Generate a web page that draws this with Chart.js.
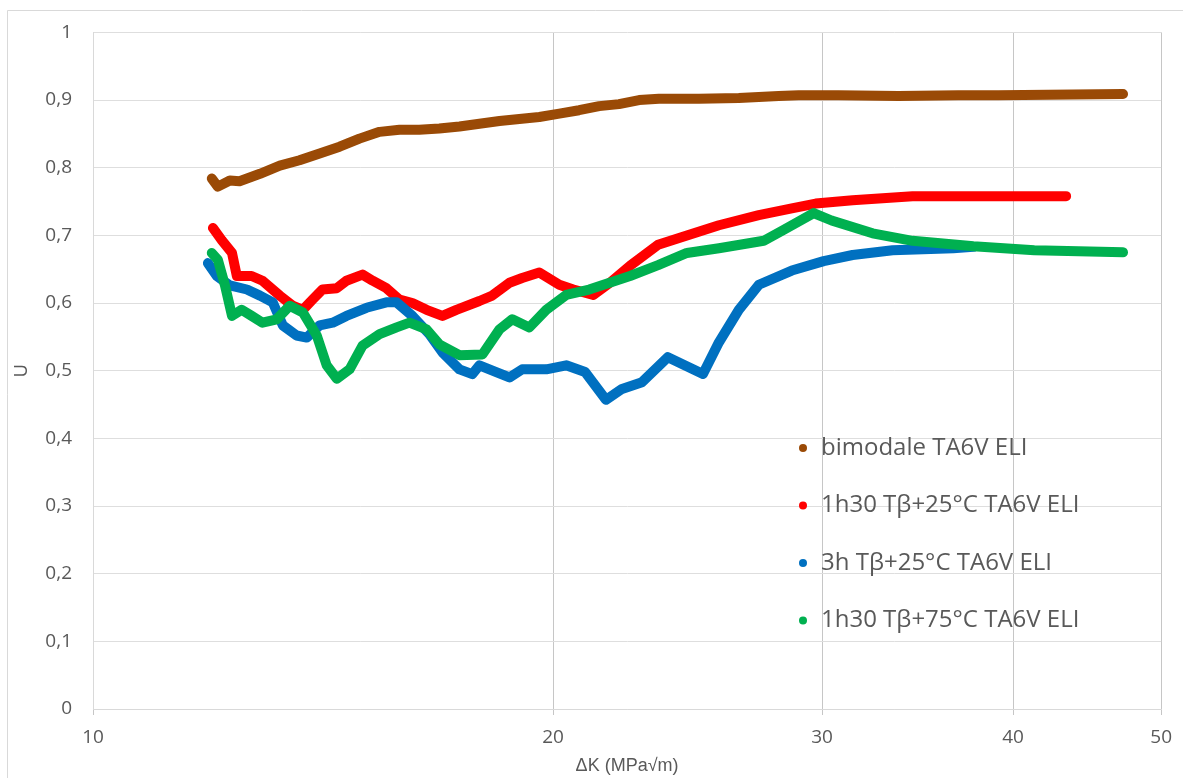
<!DOCTYPE html>
<html>
<head>
<meta charset="utf-8">
<script src="https://cdn.jsdelivr.net/npm/chart.js@4"></script>
<style>
  html, body { margin: 0; padding: 0; background: #fff; }
  #wrap { width: 1183px; height: 778px; }
</style>
</head>
<body>
<div id="wrap"><canvas id="uChart" width="1183" height="778"></canvas></div>
<script>
// series labels
var seriesNames = [
  "bimodale TA6V ELI",
  "1h30 T\u03b2+25\u00b0C TA6V ELI",
  "3h T\u03b2+25\u00b0C TA6V ELI",
  "1h30 T\u03b2+75\u00b0C TA6V ELI"
];
var seriesColors = ["#9a4a06", "#ff0000", "#0070c0", "#00b050"];

// x axis ticks (log scale) and y ticks
var xTicks = [10, 20, 30, 40, 50];
var yTicks = [0, 0.1, 0.2, 0.3, 0.4, 0.5, 0.6, 0.7, 0.8, 0.9, 1];

// bimodale TA6V ELI
var bimodaleDK = [11.96, 12.07, 12.29, 12.47, 12.86, 13.25, 13.65, 14.07, 14.50, 14.94, 15.40, 15.87, 16.35, 16.85, 17.37, 17.90, 18.45, 19.01, 19.59, 20.19, 20.80, 21.44, 22.09, 22.77, 23.46, 24.92, 26.46, 28.10, 28.96, 30.75, 33.66, 36.84, 39.12, 42.18, 47.21];
var bimodaleU = [0.784, 0.772, 0.781, 0.780, 0.791, 0.803, 0.811, 0.821, 0.831, 0.843, 0.853, 0.856, 0.856, 0.858, 0.861, 0.865, 0.869, 0.872, 0.875, 0.880, 0.885, 0.891, 0.894, 0.900, 0.902, 0.902, 0.903, 0.906, 0.907, 0.907, 0.906, 0.907, 0.907, 0.908, 0.909];

// 1h30 Tb+25C
var red25DK = [11.98, 12.14, 12.33, 12.42, 12.70, 12.91, 13.25, 13.51, 13.72, 13.92, 14.13, 14.44, 14.65, 15.01, 15.24, 15.56, 15.87, 16.18, 16.53, 16.93, 17.29, 17.90, 18.25, 18.73, 19.09, 19.59, 20.19, 20.62, 21.25, 21.79, 22.46, 23.43, 24.47, 25.68, 27.27, 28.66, 29.71, 31.41, 34.38, 38.83, 43.33];
var red25U = [0.711, 0.693, 0.674, 0.640, 0.640, 0.633, 0.611, 0.596, 0.590, 0.605, 0.620, 0.622, 0.633, 0.642, 0.633, 0.622, 0.605, 0.600, 0.590, 0.581, 0.590, 0.603, 0.611, 0.630, 0.637, 0.645, 0.627, 0.620, 0.612, 0.630, 0.655, 0.686, 0.700, 0.715, 0.730, 0.740, 0.747, 0.752, 0.758, 0.758, 0.758];

// 3h Tb+25C
var blue3hDK = [11.89, 12.05, 12.29, 12.61, 12.86, 13.11, 13.31, 13.59, 13.80, 14.07, 14.35, 14.65, 15.10, 15.56, 15.80, 16.18, 16.60, 16.93, 17.37, 17.71, 17.90, 18.36, 18.73, 19.09, 19.80, 20.40, 20.99, 21.66, 22.19, 22.87, 23.78, 25.07, 25.68, 26.46, 27.27, 28.66, 30.07, 31.41, 33.36, 36.56, 37.68];
var blue3hU = [0.659, 0.640, 0.626, 0.620, 0.611, 0.601, 0.567, 0.552, 0.549, 0.567, 0.571, 0.581, 0.593, 0.601, 0.601, 0.581, 0.554, 0.527, 0.502, 0.495, 0.508, 0.498, 0.490, 0.502, 0.502, 0.508, 0.498, 0.457, 0.473, 0.483, 0.520, 0.495, 0.542, 0.590, 0.627, 0.648, 0.662, 0.671, 0.678, 0.681, 0.683];

// 1h30 Tb+75C
var green75DK = [11.96, 12.07, 12.20, 12.33, 12.51, 12.70, 12.91, 13.19, 13.45, 13.72, 14.01, 14.22, 14.44, 14.72, 15.01, 15.40, 15.80, 16.11, 16.53, 16.85, 17.37, 17.98, 18.45, 18.81, 19.30, 19.80, 20.40, 21.12, 22.46, 23.43, 24.47, 25.68, 27.47, 28.31, 29.62, 30.43, 32.37, 34.38, 37.68, 41.30, 47.21];
var green75U = [0.674, 0.664, 0.626, 0.581, 0.590, 0.581, 0.571, 0.576, 0.596, 0.586, 0.552, 0.508, 0.488, 0.502, 0.537, 0.554, 0.564, 0.571, 0.561, 0.539, 0.523, 0.524, 0.561, 0.576, 0.564, 0.590, 0.612, 0.620, 0.640, 0.656, 0.674, 0.681, 0.692, 0.708, 0.733, 0.722, 0.703, 0.692, 0.684, 0.678, 0.675];

function toPoints(xs, ys) {
  var pts = [];
  for (var i = 0; i < xs.length; i++) {
    pts.push({ x: xs[i], y: ys[i] });
  }
  return pts;
}

var seriesX = [bimodaleDK, red25DK, blue3hDK, green75DK];
var seriesY = [bimodaleU, red25U, blue3hU, green75U];

var datasets = [];
for (var i = 0; i < seriesNames.length; i++) {
  datasets.push({
    label: seriesNames[i],
    data: toPoints(seriesX[i], seriesY[i]),
    borderColor: seriesColors[i],
    backgroundColor: seriesColors[i],
    borderWidth: 10,
    borderCapStyle: "round",
    borderJoinStyle: "round",
    pointRadius: 0,
    tension: 0,
    // later series sit on top, like the spreadsheet
    order: seriesNames.length - i
  });
}

var tickFont = { family: "'Open Sans', 'Noto Sans', sans-serif", size: 19 };

// frame around the whole chart
var framePlugin = {
  id: "frame",
  beforeDraw: function (chart) {
    var c = chart.ctx;
    c.save();
    c.fillStyle = "#ffffff";
    c.fillRect(0, 0, chart.width, chart.height);
    c.strokeStyle = "#d9d9d9";
    c.lineWidth = 1;
    c.beginPath();
    c.moveTo(7.5, chart.height);
    c.lineTo(7.5, 10.5);
    c.lineTo(chart.width, 10.5);
    c.stroke();
    c.restore();
  }
};

// legend drawn inside the plot area
var innerLegend = {
  id: "innerLegend",
  afterDatasetsDraw: function (chart) {
    var c = chart.ctx;
    var x0 = 803, y0 = 448, step = 57.5;
    c.save();
    c.font = "24px 'Open Sans', 'Noto Sans', sans-serif";
    c.textBaseline = "middle";
    c.textAlign = "left";
    chart.data.datasets.forEach(function (ds, k) {
      var y = y0 + k * step;
      c.fillStyle = ds.borderColor;
      c.beginPath();
      c.arc(x0, y, 4, 0, Math.PI * 2);
      c.fill();
      c.fillStyle = "#595959";
      c.fillText(ds.label, x0 + 18, y);
    });
    c.restore();
  }
};

var ctx = document.getElementById("uChart").getContext("2d");
var uChart = new Chart(ctx, {
  type: "line",
  data: { datasets: datasets },
  plugins: [framePlugin, innerLegend],
  options: {
    responsive: false,
    animation: false,
    layout: { padding: { left: 0, top: 28, right: 18, bottom: 0 } },
    plugins: {
      legend: { display: false },
      tooltip: { enabled: false }
    },
    scales: {
      x: {
        type: "logarithmic",
        min: 10,
        max: 50,
        afterBuildTicks: function (scale) {
          scale.ticks = xTicks.map(function (v) { return { value: v }; });
        },
        afterFit: function (scale) { scale.height = 69; },
        ticks: {
          autoSkip: false,
          maxRotation: 0,
          padding: 11,
          color: "#595959",
          font: tickFont,
          callback: function (v) { return String(v); }
        },
        grid: {
          color: "#c6c6c6",
          lineWidth: 1,
          drawTicks: true,
          tickLength: 6
        },
        border: { display: true, color: "#d9d9d9" },
        title: {
          display: true,
          text: "\u0394K (MPa\u221am)",
          color: "#595959",
          font: { family: "'Liberation Sans', Arial, sans-serif", size: 18 },
          padding: { top: 0, bottom: 1 }
        }
      },
      y: {
        type: "linear",
        min: 0,
        max: 1,
        afterBuildTicks: function (scale) {
          scale.ticks = yTicks.map(function (v) { return { value: v }; });
        },
        afterFit: function (scale) { scale.width = 93; },
        ticks: {
          padding: 21,
          color: "#595959",
          font: tickFont,
          callback: function (v) {
            return String(Math.round(v * 10) / 10).replace(".", ",");
          }
        },
        grid: { color: "#dedede", lineWidth: 1, drawTicks: false },
        border: { display: true, color: "#d9d9d9" },
        title: {
          display: true,
          text: "U",
          color: "#595959",
          font: { family: "'Liberation Sans', Arial, sans-serif", size: 18 },
          padding: { top: 11, bottom: 0 }
        }
      }
    }
  }
});
</script>
</body>
</html>
